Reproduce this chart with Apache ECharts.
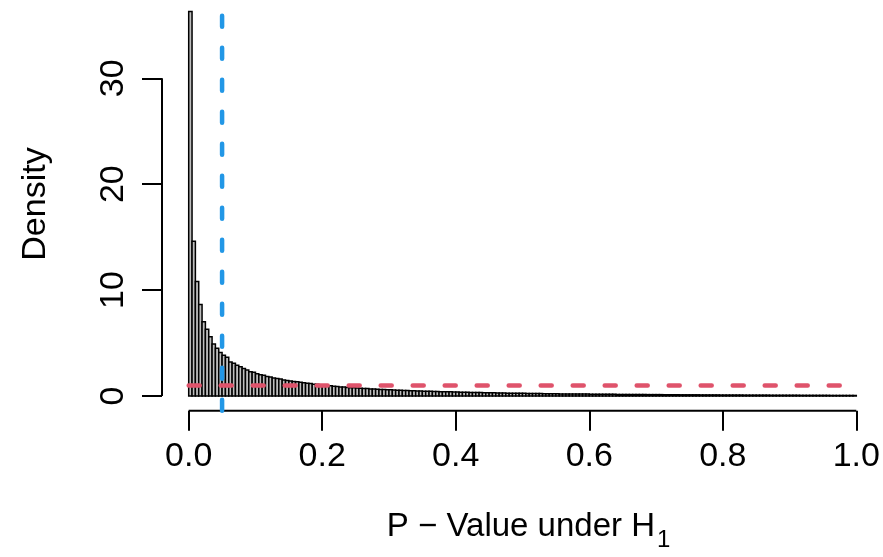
<!DOCTYPE html>
<html>
<head>
<meta charset="utf-8">
<script src="https://cdn.jsdelivr.net/npm/echarts@6/dist/echarts.min.js"></script>
<style>
  html, body { margin: 0; padding: 0; background: #ffffff; }
  #chart { width: 883px; height: 557px; }
</style>
</head>
<body>
<div id="chart"></div>
<script>
// Histogram of p-values under the alternative hypothesis (bin width 0.005)
const binStart = 0;
const binWidth = 0.005;
const density = [
  36.3, 14.6, 10.8, 8.65, 7.0, 6.3, 5.6, 4.9, 4.5, 4.1,
  3.85, 3.65, 3.2, 3.1, 2.9, 2.75, 2.6, 2.45, 2.3, 2.25,
  2.1, 2.0, 1.95, 1.85, 1.8, 1.7, 1.66, 1.6, 1.5, 1.46,
  1.42, 1.37, 1.34, 1.29, 1.26, 1.2, 1.18, 1.12, 1.1, 1.05,
  1.01, 0.97, 0.96, 0.91, 0.9, 0.86, 0.85, 0.81, 0.79, 0.77,
  0.76, 0.72, 0.71, 0.7, 0.67, 0.66, 0.63, 0.62, 0.61, 0.59,
  0.58, 0.57, 0.55, 0.54, 0.53, 0.51, 0.5, 0.49, 0.48, 0.47,
  0.46, 0.45, 0.44, 0.43, 0.42, 0.41, 0.40, 0.39, 0.39, 0.38,
  0.37, 0.36, 0.36, 0.35, 0.34, 0.33, 0.33, 0.32, 0.31, 0.31,
  0.30, 0.30, 0.29, 0.28, 0.28, 0.27, 0.27, 0.26, 0.26, 0.25,
  0.25, 0.24, 0.24, 0.23, 0.23, 0.23, 0.22, 0.22, 0.21, 0.21,
  0.21, 0.20, 0.20, 0.20, 0.19, 0.19, 0.19, 0.18, 0.18, 0.18,
  0.17, 0.17, 0.17, 0.17, 0.16, 0.16, 0.16, 0.16, 0.15, 0.15,
  0.15, 0.15, 0.14, 0.14, 0.14, 0.14, 0.14, 0.13, 0.13, 0.13,
  0.13, 0.13, 0.12, 0.12, 0.12, 0.12, 0.12, 0.11, 0.11, 0.11,
  0.11, 0.11, 0.11, 0.10, 0.10, 0.10, 0.10, 0.10, 0.10, 0.09,
  0.09, 0.09, 0.09, 0.09, 0.09, 0.09, 0.08, 0.08, 0.08, 0.08,
  0.08, 0.08, 0.08, 0.08, 0.07, 0.07, 0.07, 0.07, 0.07, 0.07,
  0.07, 0.07, 0.07, 0.06, 0.06, 0.06, 0.06, 0.06, 0.06, 0.06,
  0.06, 0.06, 0.05, 0.05, 0.05, 0.05, 0.05, 0.05, 0.05, 0.05
];
const xTicks = [0, 0.2, 0.4, 0.6, 0.8, 1.0];
const yTicks = [0, 10, 20, 30];
const alphaLevel = 0.05;      // significance level (vertical line)
const uniformDensity = 1;     // density under H0 (horizontal line)
const uniformRange = [0, 1];

const xMin = -0.04, xMax = 1.04;
const yMin = -1.388, yMax = 37.39;

const FONT = '"Liberation Sans", Arial, Helvetica, sans-serif';

const bars = density.map((d, i) => [binStart + i * binWidth, binStart + (i + 1) * binWidth, d]);

const chart = echarts.init(document.getElementById('chart'), null, { renderer: 'canvas' });

function segment(api, a, b, style) {
  const p = api.coord(a), q = api.coord(b);
  return { type: 'line', shape: { x1: p[0], y1: p[1], x2: q[0], y2: q[1] }, style };
}

chart.setOption({
  animation: false,
  backgroundColor: '#ffffff',
  grid: { left: 162, right: 0, top: 0, bottom: 146.3, containLabel: false, outerBoundsMode: 'none' },
  xAxis: {
    type: 'value', min: xMin, max: xMax,
    axisLine: { show: false, onZero: false },
    splitLine: { show: false },
    axisTick: { show: true, customValues: xTicks, length: 20, lineStyle: { color: '#000', width: 2 } },
    axisLabel: {
      show: true, customValues: xTicks, margin: 29,
      formatter: v => v.toFixed(1),
      color: '#000', fontSize: 34, fontFamily: FONT
    }
  },
  yAxis: {
    type: 'value', min: yMin, max: yMax,
    axisLine: { show: false, onZero: false },
    splitLine: { show: false },
    axisTick: { show: true, customValues: yTicks, length: 20, lineStyle: { color: '#000', width: 2 } },
    axisLabel: {
      show: true, customValues: yTicks, margin: 31, rotate: 90,
      align: 'center', verticalAlign: 'bottom',
      color: '#000', fontSize: 34, fontFamily: FONT
    }
  },
  series: [
    {
      // histogram bars
      type: 'custom',
      data: bars,
      renderItem: (params, api) => {
        const p0 = api.coord([api.value(0), 0]);
        const p1 = api.coord([api.value(1), api.value(2)]);
        return {
          type: 'rect',
          shape: { x: p0[0], y: p1[1], width: p1[0] - p0[0], height: p0[1] - p1[1] },
          style: { fill: '#bebebe', stroke: '#000000', lineWidth: 1.5 }
        };
      }
    },
    {
      // axis lines spanning the tick range only
      type: 'custom',
      data: [0],
      renderItem: (params, api) => ({
        type: 'group',
        children: [
          segment(api, [xTicks[0], yMin], [xTicks[xTicks.length - 1], yMin], { stroke: '#000', lineWidth: 2 }),
          segment(api, [xMin, yTicks[0]], [xMin, yTicks[yTicks.length - 1]], { stroke: '#000', lineWidth: 2 })
        ]
      })
    },
    {
      // uniform density under H0
      type: 'custom',
      data: [0],
      renderItem: (params, api) => segment(api,
        [uniformRange[0], uniformDensity], [uniformRange[1], uniformDensity],
        { stroke: '#DF536B', lineWidth: 4.5, lineDash: [11, 21], lineCap: 'round', fill: null })
    },
    {
      // significance level
      type: 'custom',
      data: [0],
      renderItem: (params, api) => segment(api,
        [alphaLevel, yMin], [alphaLevel, yMax],
        { stroke: '#2297E6', lineWidth: 4.5, lineDash: [11, 21], lineCap: 'round', fill: null })
    }
  ],
  graphic: [
    {
      type: 'text', x: 36, y: 204, rotation: Math.PI / 2,
      style: { text: 'Density', fontSize: 34, fontFamily: FONT, fill: '#000', align: 'center', verticalAlign: 'middle' }
    },
    {
      type: 'text', x: 655, y: 527,
      style: { text: 'P \u2212 Value under H', fontSize: 33, fontFamily: FONT, fill: '#000', align: 'right', verticalAlign: 'middle' }
    },
    {
      type: 'text', x: 657, y: 540,
      style: { text: '1', fontSize: 24, fontFamily: FONT, fill: '#000', align: 'left', verticalAlign: 'middle' }
    }
  ]
});
</script>
</body>
</html>
